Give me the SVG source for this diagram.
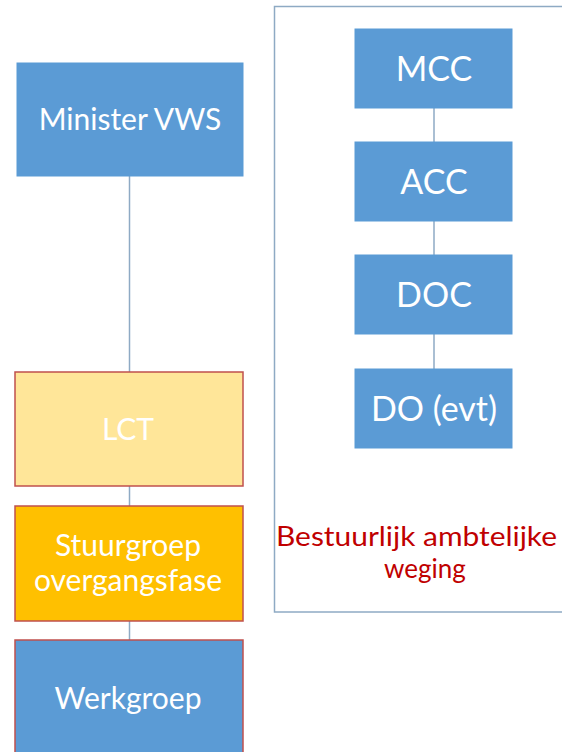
<svg xmlns="http://www.w3.org/2000/svg" width="562" height="752" viewBox="0 0 562 752">
<style>
.bg{fill:#ffffff}
.blue{fill:#5B9BD5;stroke:#5B9BD5;stroke-width:1}
.redb{stroke:#C0504D;stroke-width:1.5}
.t{font-family:Lato,"Open Sans","Liberation Sans",sans-serif;fill:#ffffff;text-anchor:middle;font-size:30px}
.tr{font-family:Lato,"Open Sans","Liberation Sans",sans-serif;fill:#ffffff;text-anchor:middle;font-size:34px}
.conn{stroke:#8EAAC4;stroke-width:1.5;fill:none}
.red{font-family:Lato,"Open Sans","Liberation Sans",sans-serif;fill:#C00000;text-anchor:middle;font-size:26px}
</style>
<rect class="bg" x="0" y="0" width="562" height="752"/>
<g id="container">
<rect x="274.5" y="6.5" width="300" height="605.5" fill="none" stroke="#8EAAC4" stroke-width="1.5"/>
</g>
<g id="connectors">
<line class="conn" x1="129.5" y1="176" x2="129.5" y2="372"/>
<line class="conn" x1="129.5" y1="486" x2="129.5" y2="506"/>
<line class="conn" x1="129.5" y1="621" x2="129.5" y2="640"/>
<line class="conn" x1="434" y1="108" x2="434" y2="142"/>
<line class="conn" x1="434" y1="221" x2="434" y2="255"/>
<line class="conn" x1="434" y1="334" x2="434" y2="369"/>
</g>
<g id="minister">
<rect class="blue" x="17" y="63" width="226" height="113"/>
<text class="t" x="130" y="130">Minister VWS</text>
</g>
<g id="lct">
<rect class="redb" fill="#FFE699" x="15" y="372" width="228" height="114"/>
<text class="t" x="128" y="440">LCT</text>
</g>
<g id="stuurgroep">
<rect class="redb" fill="#FFC000" x="15" y="506" width="228" height="115"/>
<text class="t" x="128" y="556">Stuurgroep</text>
<text class="t" x="128" y="591">overgangsfase</text>
</g>
<g id="werkgroep">
<rect class="redb" fill="#5B9BD5" x="15" y="640" width="228" height="130"/>
<text class="t" x="128" y="709">Werkgroep</text>
</g>
<g id="mcc">
<rect class="blue" x="355" y="29" width="157" height="79"/>
<text class="tr" x="434" y="81">MCC</text>
</g>
<g id="acc">
<rect class="blue" x="355" y="142" width="157" height="79"/>
<text class="tr" x="434" y="194">ACC</text>
</g>
<g id="doc">
<rect class="blue" x="355" y="255" width="157" height="79"/>
<text class="tr" x="434" y="307">DOC</text>
</g>
<g id="do">
<rect class="blue" x="355" y="369" width="157" height="79"/>
<text class="tr" x="434" y="421">DO (evt)</text>
</g>
<g id="label">
<text class="red" x="416.5" y="546" textLength="281" lengthAdjust="spacingAndGlyphs">Bestuurlijk ambtelijke</text>
<text class="red" x="425" y="578">weging</text>
</g>
</svg>
